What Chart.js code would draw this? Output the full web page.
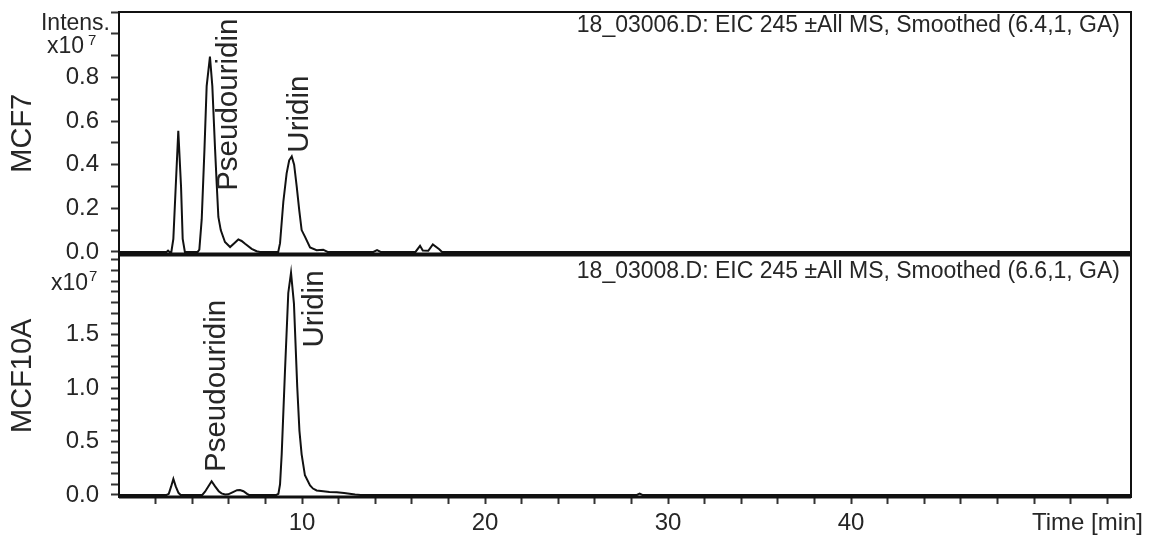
<!DOCTYPE html>
<html>
<head>
<meta charset="utf-8">
<title>EIC 245 - MCF7 / MCF10A</title>
<script src="https://cdn.jsdelivr.net/npm/chart.js@4.4.1/dist/chart.umd.min.js"></script>
<style>
  html, body { margin: 0; padding: 0; background: #fff; }
  #eic { display: block; }
</style>
</head>
<body>
<canvas id="eic" width="1154" height="538"></canvas>
<script>
// Extracted ion chromatograms (m/z 245), time in min, intensity in x10^7 counts
var mcf7Time = [0, 2.6, 2.68, 2.76, 2.86, 2.97, 3.1, 3.24, 3.39, 3.48,
    3.6, 4.3, 4.39, 4.52, 4.67, 4.79, 4.97, 5.1, 5.25, 5.34,
    5.43, 5.56, 5.79, 6.07, 6.3, 6.52, 6.7, 6.89, 7.25, 7.52,
    7.7, 8.7, 8.8, 8.98, 9.16, 9.3, 9.44, 9.57, 9.71, 9.85,
    9.98, 10.16, 10.44, 10.8, 11.16, 11.4, 13.9, 14.1, 14.3, 16.2,
    16.45, 16.6, 16.9, 17.15, 17.5, 17.65, 55.3];
var mcf7Intensity = [0, 0, 0.006, 0, 0, 0.06, 0.3, 0.555, 0.3, 0.06,
    0, 0, 0.01, 0.15, 0.47, 0.76, 0.895, 0.76, 0.47, 0.31,
    0.16, 0.1, 0.045, 0.022, 0.04, 0.057, 0.05, 0.037, 0.014, 0.003,
    0, 0, 0.04, 0.23, 0.36, 0.42, 0.438, 0.4, 0.3, 0.19,
    0.1, 0.07, 0.02, 0.008, 0.01, 0, 0, 0.008, 0, 0,
    0.028, 0.006, 0.005, 0.034, 0.012, 0, 0];

var mcf10aTime = [0, 2.6, 2.72, 2.85, 2.97, 3.1, 3.25, 3.37, 4.55, 4.7,
    4.88, 5.06, 5.25, 5.45, 5.6, 5.8, 5.97, 6.2, 6.45, 6.61,
    6.8, 7.0, 7.1, 8.6, 8.71, 8.8, 8.89, 9.07, 9.25, 9.4,
    9.56, 9.74, 9.86, 9.98, 10.16, 10.44, 10.6, 10.8, 11.16, 11.5,
    11.9, 12.3, 12.6, 12.9, 13.2, 28.3, 28.45, 28.6, 55.3];
var mcf10aIntensity = [0, 0, 0.01, 0.08, 0.15, 0.08, 0.02, 0, 0, 0.03,
    0.08, 0.128, 0.08, 0.035, 0.015, 0.005, 0.006, 0.025, 0.045, 0.047,
    0.035, 0.01, 0, 0, 0.01, 0.1, 0.38, 1.16, 1.89, 2.08,
    1.79, 1.01, 0.6, 0.38, 0.184, 0.09, 0.06, 0.042, 0.035, 0.028,
    0.025, 0.018, 0.012, 0.004, 0, 0, 0.012, 0, 0];

// axis ticks
var timeTicks = [2, 4, 6, 8, 10, 12, 14, 16, 18, 20, 22, 24, 26, 28,
    30, 32, 34, 36, 38, 40, 42, 44, 46, 48, 50, 52, 54];
var timeLabelled = [10, 20, 30, 40];
var mcf7Ticks = [0, 0.1, 0.2, 0.3, 0.4, 0.5, 0.6, 0.7, 0.8, 0.9, 1.0, 1.1];
var mcf7Labelled = [0, 0.2, 0.4, 0.6, 0.8];
var mcf10aTicks = [0, 0.1, 0.2, 0.3, 0.4, 0.5, 0.6, 0.7, 0.8, 0.9, 1.0, 1.1,
    1.2, 1.3, 1.4, 1.5, 1.6, 1.7, 1.8, 1.9, 2.0, 2.1, 2.2];
var mcf10aLabelled = [0, 0.5, 1.0, 1.5];

var sampleNames = ['MCF7', 'MCF10A'];
var traceTitles = [
    '18_03006.D: EIC 245 \u00B1All MS, Smoothed (6.4,1, GA)',
    '18_03008.D: EIC 245 \u00B1All MS, Smoothed (6.6,1, GA)'
];
var peakNames = ['Pseudouridin', 'Uridin'];
// where each peak name starts: [time, intensity]
var mcf7PeakLabelAt = [[6.0, 0.28], [9.9, 0.455]];
var mcf10aPeakLabelAt = [[5.35, 0.215], [10.68, 1.38]];

(function() {
    'use strict';

    var FONT = '"Liberation Sans", Arial, Helvetica, sans-serif';
    var INK = '#262626';

    Chart.defaults.font.family = FONT;
    Chart.defaults.color = INK;

    function toPoints(xs, ys) {
        return xs.map(function(x, i) { return {x: x, y: ys[i]}; });
    }

    function hasValue(list, value) {
        return list.some(function(v) { return Math.abs(v - value) < 1e-6; });
    }

    function yAxis(name, min, max, tickValues, labelled) {
        return {
            type: 'linear',
            position: 'left',
            stack: 'eic',
            stackWeight: 1,
            min: min,
            max: max,
            afterBuildTicks: function(axis) {
                axis.ticks = tickValues.map(function(v) { return {value: v}; });
            },
            afterFit: function(axis) {
                axis.width = 119;
                axis.paddingTop = 0;
                axis.paddingBottom = 0;
            },
            border: { display: false },
            grid: {
                drawOnChartArea: false,
                drawTicks: true,
                tickLength: 8,
                tickWidth: 2,
                tickColor: '#333'
            },
            ticks: {
                autoSkip: false,
                padding: 12,
                color: INK,
                font: { size: 24 },
                callback: function(value) {
                    return hasValue(labelled, value) ? value.toFixed(1) : '';
                }
            },
            title: {
                display: true,
                text: name,
                color: INK,
                font: { size: 29 },
                padding: { top: 6, bottom: 0 }
            }
        };
    }

    // panel frames, headers and the intensity exponent
    var decorations = {
        id: 'eicDecorations',
        afterDatasetsDraw: function(chart) {
            var ctx = chart.ctx;
            var area = chart.chartArea;
            var top = chart.scales.yMcf7;
            var bottom = chart.scales.yMcf10a;
            var x = chart.scales.x;

            ctx.save();
            ctx.strokeStyle = '#111';
            ctx.lineWidth = 2;
            [top, bottom].forEach(function(s) {
                ctx.strokeRect(area.left, s.top, area.right - area.left, s.bottom - s.top);
            });
            ctx.lineWidth = 4;
            ctx.beginPath();
            ctx.moveTo(area.left, top.bottom);
            ctx.lineTo(area.right, top.bottom);
            ctx.stroke();
            ctx.beginPath();
            ctx.lineWidth = 3;
            ctx.moveTo(area.left, area.bottom);
            ctx.lineTo(area.right, area.bottom);
            ctx.stroke();

            ctx.fillStyle = INK;
            ctx.textBaseline = 'middle';

            // run headers
            ctx.font = '23px ' + FONT;
            ctx.textAlign = 'right';
            ctx.fillText(traceTitles[0], area.right - 11, top.top + 14);
            ctx.fillText(traceTitles[1], area.right - 11, bottom.top + 17);

            // time axis caption sits on the tick label row
            ctx.font = '24px ' + FONT;
            ctx.fillText('Time [min]', 1143, area.bottom + 26);

            // intensity unit labels
            ctx.font = '23px ' + FONT;
            ctx.fillText('Intens.', 110, top.getPixelForValue(1.0) - 10);
            ctx.fillText('x10', 84, top.getPixelForValue(1.0) + 13);
            ctx.fillText('x10', 88, bottom.getPixelForValue(2.0) + 2);
            ctx.font = '15px ' + FONT;
            ctx.textAlign = 'left';
            ctx.fillText('7', 88, top.getPixelForValue(1.0) + 7);
            ctx.fillText('7', 89, bottom.getPixelForValue(2.0) - 4);

            // peak names, written upwards
            ctx.font = '29.5px ' + FONT;
            function vertical(text, at, scale) {
                ctx.save();
                ctx.translate(x.getPixelForValue(at[0]), scale.getPixelForValue(at[1]));
                ctx.rotate(-Math.PI / 2);
                ctx.textAlign = 'left';
                ctx.textBaseline = 'middle';
                ctx.fillText(text, 0, 0);
                ctx.restore();
            }
            peakNames.forEach(function(name, i) {
                vertical(name, mcf7PeakLabelAt[i], top);
                vertical(name, mcf10aPeakLabelAt[i], bottom);
            });
            ctx.restore();
        }
    };

    var background = {
        id: 'whiteBackground',
        beforeDraw: function(chart) {
            var ctx = chart.ctx;
            ctx.save();
            ctx.fillStyle = '#fff';
            ctx.fillRect(0, 0, chart.width, chart.height);
            ctx.restore();
        }
    };

    var trace = {
        showLine: true,
        borderColor: '#111',
        borderWidth: 2,
        pointRadius: 0,
        tension: 0,
        fill: false
    };

    new Chart(document.getElementById('eic'), {
        type: 'scatter',
        data: {
            datasets: [
                Object.assign({ label: sampleNames[1], yAxisID: 'yMcf10a',
                    data: toPoints(mcf10aTime, mcf10aIntensity) }, trace),
                Object.assign({ label: sampleNames[0], yAxisID: 'yMcf7',
                    data: toPoints(mcf7Time, mcf7Intensity) }, trace)
            ]
        },
        options: {
            responsive: false,
            animation: false,
            devicePixelRatio: 1,
            layout: { padding: { top: 12, right: 23, bottom: 0, left: 0 } },
            plugins: {
                legend: { display: false },
                tooltip: { enabled: false }
            },
            scales: {
                x: {
                    type: 'linear',
                    min: 0,
                    max: 55.3,
                    afterBuildTicks: function(axis) {
                        axis.ticks = timeTicks.map(function(v) { return {value: v}; });
                    },
                    afterFit: function(axis) {
                        axis.height = 41;
                        axis.paddingLeft = 0;
                        axis.paddingRight = 0;
                    },
                    border: { display: false },
                    grid: {
                        drawOnChartArea: false,
                        tickLength: 7,
                        tickWidth: 2,
                        tickColor: '#333'
                    },
                    ticks: {
                        autoSkip: false,
                        maxRotation: 0,
                        padding: 5,
                        color: INK,
                        font: { size: 24 },
                        callback: function(value) {
                            return hasValue(timeLabelled, value) ? String(value) : '';
                        }
                    }
                },
                yMcf10a: yAxis(sampleNames[1], -0.019, 2.25, mcf10aTicks, mcf10aLabelled),
                yMcf7: yAxis(sampleNames[0], -0.012, 1.1, mcf7Ticks, mcf7Labelled)
            }
        },
        plugins: [background, decorations]
    });
})();
</script>
</body>
</html>
